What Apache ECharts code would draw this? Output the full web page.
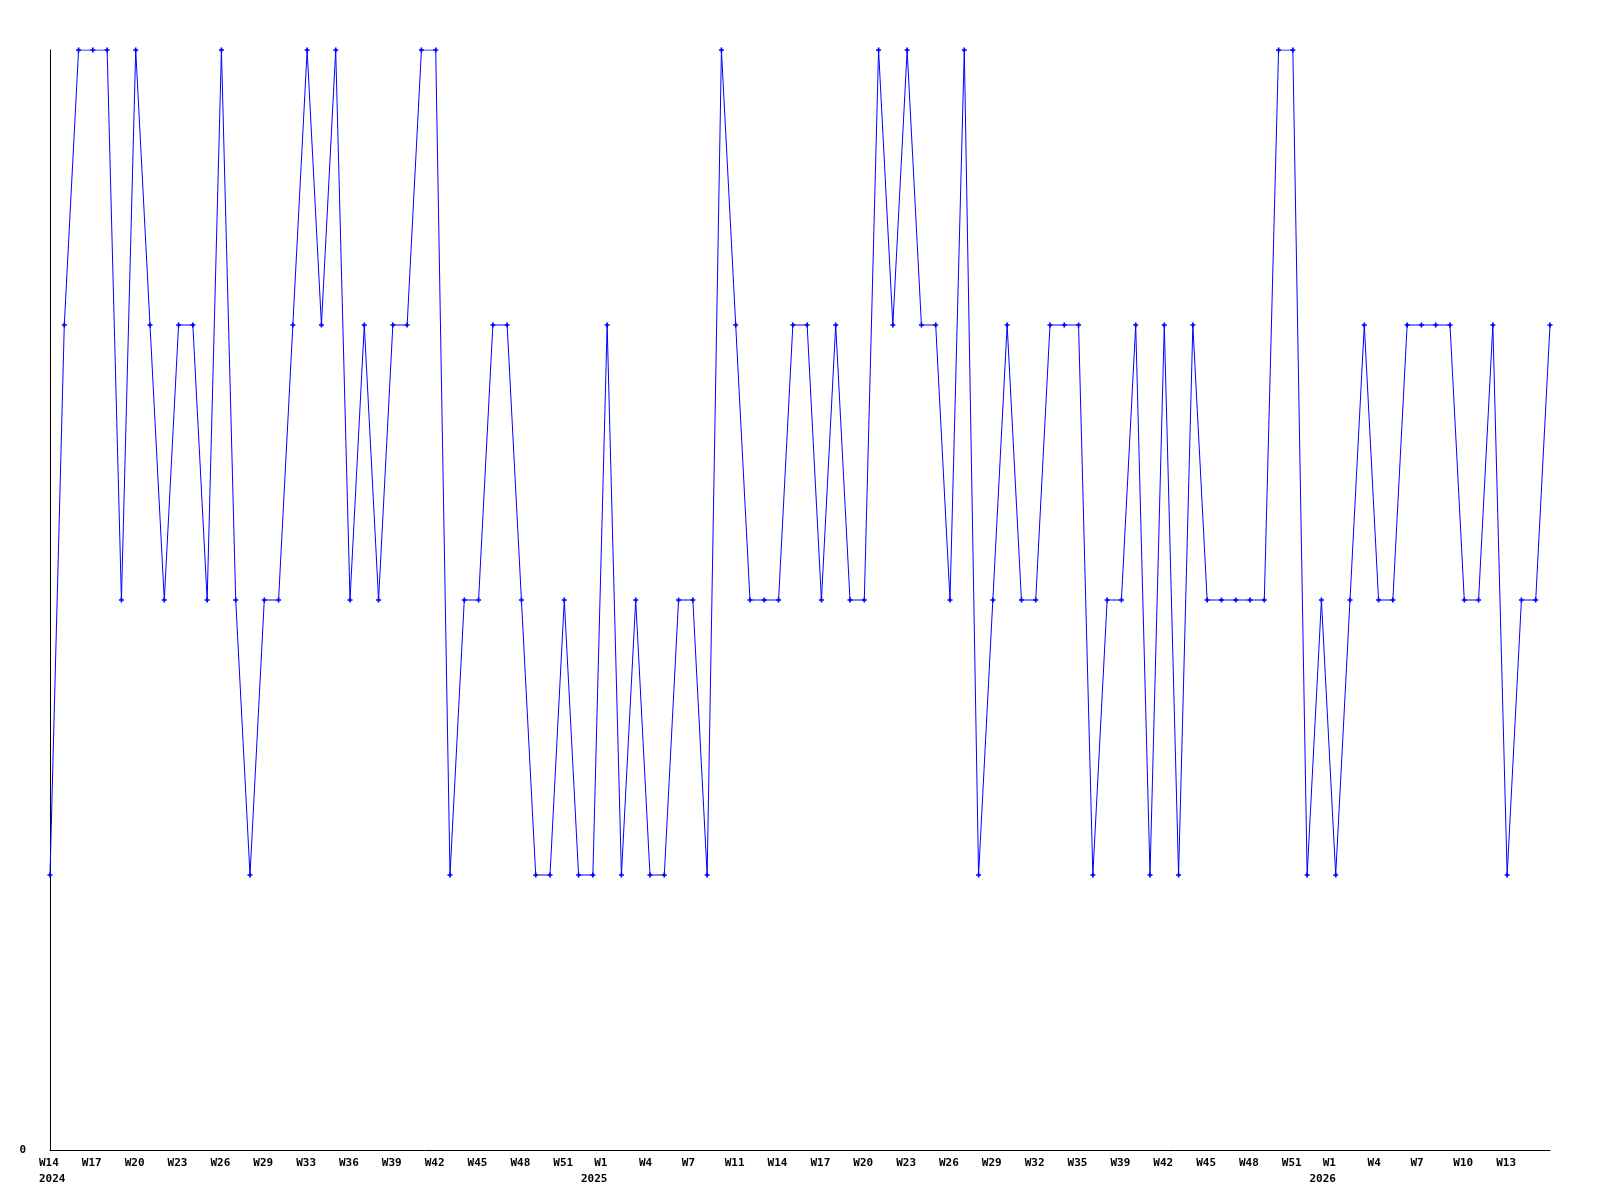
<!DOCTYPE html>
<html>
<head>
<meta charset="utf-8">
<script src="https://cdn.jsdelivr.net/npm/echarts@6/dist/echarts.min.js"></script>
<style>
html,body{margin:0;padding:0;background:#fff;}
#chart{width:1600px;height:1200px;}
</style>
</head>
<body>
<div id="chart"></div>
<script>
// Weekly values, starting 2024 W14 (one point per week)
const values = [
  1,3,4,4,4,2,4,3,2,3,3,2,4,2,1,2,2,3,4,3,
  4,2,3,2,3,3,4,4,1,2,2,3,3,2,1,1,2,1,1,3,
  1,2,1,1,2,2,1,4,3,2,2,2,3,3,2,3,2,2,4,3,
  4,3,3,2,4,1,2,3,2,2,3,3,3,1,2,2,3,1,3,1,
  3,2,2,2,2,2,4,4,1,2,1,2,3,2,2,3,3,3,3,2,
  2,3,1,2,2,3
];
// Tick labels, one every 3 weeks
const tickLabels = [
  'W14','W17','W20','W23','W26','W29','W33','W36','W39','W42','W45','W48','W51',
  'W1','W4','W7','W11','W14','W17','W20','W23','W26','W29','W32','W35','W39',
  'W42','W45','W48','W51','W1','W4','W7','W10','W13'
];
// Year labels shown under some ticks (tick slot -> year)
const yearTicks = [0, 13, 30];
const yearLabels = ['2024', '2025', '2026'];
const yTickLabels = ['0'];

// week categories (ISO weeks from 2024-W14)
const categories = [];
{
  let y = 2024, w = 14;
  for (let i = 0; i < values.length; i++) {
    const cat = { value: y + '-W' + w };
    const slot = i / 3;
    const yi = yearTicks.indexOf(slot);
    if (i % 3 === 0 && yi > 0) {
      cat.textStyle = { padding: [0, 0, 0, -26] };
    }
    categories.push(cat);
    w++;
    if (w > 52) { w = 1; y++; }
  }
}

const chart = echarts.init(document.getElementById('chart'));
const mono = '"DejaVu Sans Mono", "Liberation Mono", monospace';
const lblStyle = { fontFamily: mono, fontWeight: 'bold', fontSize: 11, lineHeight: 16, color: '#000' };
chart.setOption({
  animation: false,
  backgroundColor: '#ffffff',
  grid: { left: 50, right: 50, top: 50, bottom: 50, containLabel: false },
  xAxis: {
    type: 'category',
    data: categories,
    boundaryGap: false,
    axisLine: { lineStyle: { color: '#000', width: 1 } },
    axisTick: { show: false },
    splitLine: { show: false },
    axisLabel: {
      interval: 0,
      margin: 5,
      align: 'left',
      padding: [0, 0, 0, -11],
      fontFamily: mono,
      fontWeight: 'bold',
      fontSize: 11,
      lineHeight: 16,
      color: '#000',
      rich: {
        l: Object.assign({ align: 'left' }, lblStyle),
        r: Object.assign({ align: 'right' }, lblStyle)
      },
      formatter: function (v, i) {
        if (i % 3 !== 0) return '';
        const slot = i / 3;
        const t = tickLabels[slot] || '';
        const yi = yearTicks.indexOf(slot);
        if (yi === 0) return '{l|' + t + '}\n{l|' + yearLabels[yi] + '}';
        if (yi > 0) return '{r|' + t + '}\n{r|' + yearLabels[yi] + '}';
        return t;
      }
    }
  },
  yAxis: {
    type: 'value',
    min: 0,
    max: 4,
    interval: 4,
    axisLine: { show: true, lineStyle: { color: '#000', width: 1 } },
    axisTick: { show: false },
    splitLine: { show: false },
    axisLabel: {
      margin: 24,
      fontFamily: mono,
      fontWeight: 'bold',
      fontSize: 11,
      color: '#000',
      formatter: function (v) { return v === 0 ? yTickLabels[0] : ''; }
    }
  },
  series: [{
    type: 'line',
    data: values,
    symbol: 'path://M2,0H4V2H6V4H4V6H2V4H0V2H2Z',
    symbolSize: 5,
    showAllSymbol: true,
    itemStyle: { color: '#0000ff' },
    lineStyle: { color: '#0000ff', width: 1 },
    z: 3
  }]
});
</script>
</body>
</html>
